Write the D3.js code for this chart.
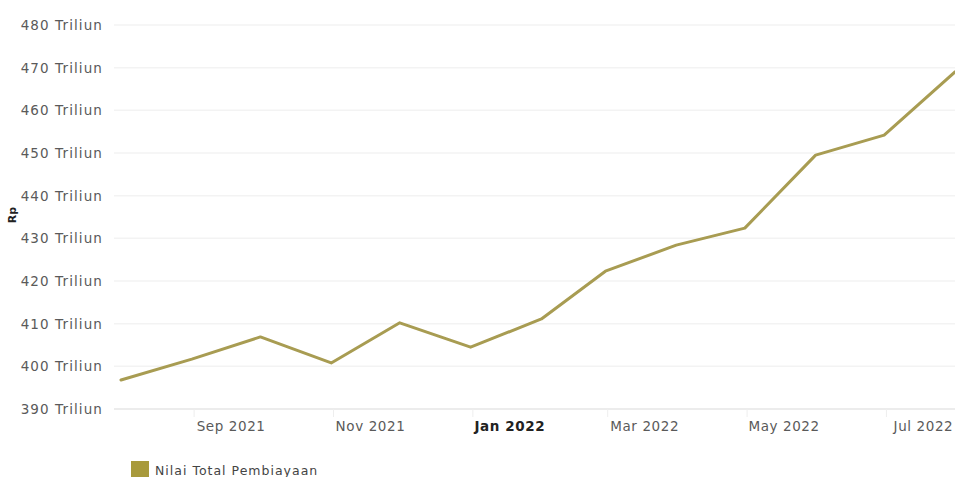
<!DOCTYPE html>
<html><head><meta charset="utf-8">
<script src="https://cdn.jsdelivr.net/npm/d3@7"></script>
<style>
html,body{margin:0;padding:0;background:#fff;}
svg{display:block;font-family:"DejaVu Sans",Verdana,sans-serif;}
</style></head>
<body><svg id="c" width="955" height="477"></svg>
<script>
const months = ["2021-07-31","2021-08-31","2021-09-30","2021-10-31","2021-11-30","2021-12-31","2022-01-31","2022-02-28","2022-03-31","2022-04-30","2022-05-31","2022-06-30","2022-07-31"];
const values = [396.8,401.7,406.9,400.8,410.2,404.5,411.1,422.3,428.4,432.4,449.5,454.2,469.0];
const yTicks = [390,400,410,420,430,440,450,460,470,480];
const xTickDates = ["2021-09-01","2021-11-01","2022-01-01","2022-03-01","2022-05-01","2022-07-01"];
const xTickLabels = ["Sep 2021","Nov 2021","Jan 2022","Mar 2022","May 2022","Jul 2022"];
const seriesName = "Nilai Total Pembiayaan";
const yUnit = "Triliun";

const parse = d3.utcParse("%Y-%m-%d");
const svg = d3.select("#c");
const L = 121, R = 955, T = 25, B = 409;
const x = d3.scaleUtc().domain([parse(months[0]), parse(months[months.length-1])]).range([L, R]);
const y = d3.scaleLinear().domain([390,480]).range([B, T]);
const color = "#a89c52";

// gridlines
svg.append("g").selectAll("line").data(yTicks).join("line")
  .attr("x1", 114).attr("x2", R).attr("y1", d=>y(d)).attr("y2", d=>y(d))
  .attr("stroke", d=> d===390 ? "#e6e6e6" : "#f3f3f3").attr("stroke-width", 1.5);

// y labels
svg.append("g").selectAll("text").data(yTicks).join("text")
  .attr("x", 103).attr("y", d=>y(d)+5).attr("text-anchor","end")
  .attr("font-size", 13.5).attr("letter-spacing", 1.1).attr("fill","#5a5a5a")
  .text(d=>d+" "+yUnit);

// y axis title
svg.append("text").attr("transform","translate(16,215) rotate(-90)")
  .attr("text-anchor","middle").attr("font-size",11).attr("font-weight","bold").attr("fill","#222").text("Rp");

// x ticks
const xt = xTickDates.map(parse);
svg.append("g").selectAll("line").data(xt).join("line")
  .attr("x1", d=>x(d)).attr("x2", d=>x(d)).attr("y1", B).attr("y2", B+8)
  .attr("stroke","#eeeeee").attr("stroke-width",1);
svg.append("g").selectAll("text").data(xt).join("text")
  .attr("x", d=>x(d)+37).attr("y", 431).attr("text-anchor","middle")
  .attr("font-size", 13.5).attr("letter-spacing", 0.6)
  .attr("fill", (d,i)=> xTickLabels[i].startsWith("Jan") ? "#222" : "#5a5a5a")
  .attr("font-weight", (d,i)=> xTickLabels[i].startsWith("Jan") ? "bold" : "normal")
  .text((d,i)=>xTickLabels[i]);

// line
const data = months.map((m,i)=>({d:parse(m), v:values[i]}));
svg.append("path").datum(data)
  .attr("fill","none").attr("stroke",color).attr("stroke-width",3)
  .attr("stroke-linejoin","round").attr("stroke-linecap","round")
  .attr("d", d3.line().x(d=>x(d.d)).y(d=>y(d.v)));

// legend
svg.append("rect").attr("x",131).attr("y",461).attr("width",18).attr("height",18).attr("fill","#a89a3c");
svg.append("text").attr("x",155).attr("y",475).attr("font-size",12.5).attr("letter-spacing",1).attr("fill","#444").text(seriesName);
</script></body></html>
